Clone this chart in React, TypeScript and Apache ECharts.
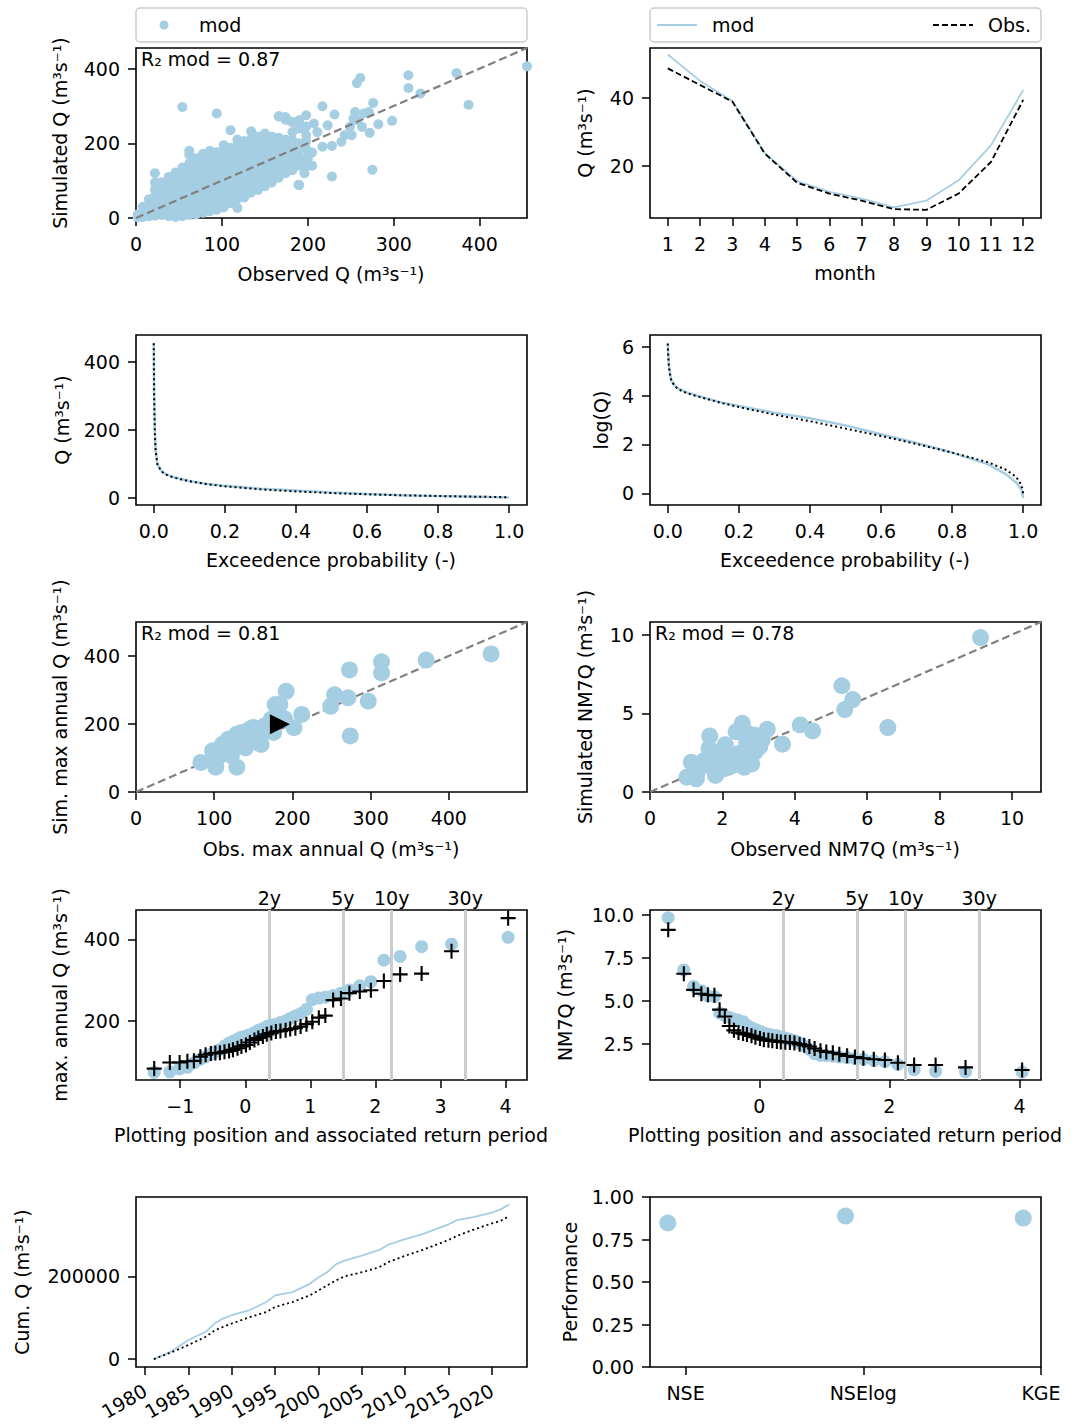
import React, { useEffect, useRef } from "react";
import * as echarts from "echarts";

const FONT = "DejaVu Sans";
const BLUE = "#a6cee3";
const DIAG_GRAY = "#808080";
const RP_GRAY = "#cccccc";

// ---------- Panel 1: daily simulated vs observed Q ----------
const P1_COLUMNS: [number, number[]][] = [
  [2, [2, 10]],
  [8, [3, 15, 30]],
  [15, [5, 20, 35, 50]],
  [22, [6, 22, 40, 58, 76, 95, 120]],
  [30, [8, 25, 42, 60, 78, 96]],
  [38, [5, 12, 30, 48, 66, 84, 100, 110]],
  [46, [3, 14, 32, 50, 68, 86, 104, 122]],
  [54, [5, 16, 35, 54, 72, 90, 108, 125, 135, 297]],
  [62, [8, 20, 38, 56, 74, 92, 110, 128, 146, 170, 180]],
  [70, [10, 22, 40, 58, 76, 94, 112, 130, 148, 160]],
  [78, [14, 25, 44, 62, 80, 98, 116, 134, 152, 165, 172]],
  [86, [18, 28, 46, 64, 82, 100, 118, 136, 154, 172, 180]],
  [94, [22, 32, 50, 68, 86, 104, 122, 140, 158, 176, 280]],
  [102, [28, 36, 54, 72, 90, 108, 126, 144, 162, 180, 195]],
  [110, [40, 45, 62, 80, 98, 116, 134, 152, 170, 188, 235]],
  [118, [27, 52, 70, 88, 106, 124, 142, 160, 178, 196, 210]],
  [126, [55, 62, 80, 98, 116, 134, 152, 170, 188, 206]],
  [134, [68, 86, 104, 122, 140, 158, 176, 194, 212, 232]],
  [142, [75, 92, 110, 128, 146, 164, 182, 200, 218]],
  [150, [85, 102, 120, 138, 156, 174, 192, 210, 226]],
  [158, [95, 112, 130, 148, 166, 184, 202, 218]],
  [166, [108, 125, 143, 161, 179, 197, 215, 272]],
  [174, [120, 138, 156, 174, 192, 210, 263, 270]],
  [182, [128, 148, 168, 188, 208, 230, 257]],
  [190, [88, 140, 160, 180, 200, 240, 262]],
  [198, [138, 160, 185, 205, 222, 245, 275]],
];
const P1_OUTLIERS: [number, number][] = [
  [189, 89], [205, 140], [205, 175], [207, 253], [217, 299], [217, 191], [223, 248], [228, 193],
  [228, 111], [231, 277], [239, 204], [243, 222], [251, 222], [249, 244], [255, 284], [257, 361],
  [261, 375], [263, 244], [271, 284], [272, 228], [275, 129], [276, 308], [282, 251], [298, 260],
  [317, 382], [317, 348], [331, 333], [373, 388], [387, 303], [455, 406], [167, 272], [176, 263],
  [182, 257], [190, 240], [257, 262], [265, 280], [253, 266], [211, 230], [200, 160], [196, 120],
];
const P1_LIMIT = 455;

// ---------- Panel 2: monthly regime ----------
const MONTHS = [1, 2, 3, 4, 5, 6, 7, 8, 9, 10, 11, 12];
const MONTHLY_MOD = [52.9, 45.1, 39.2, 23.9, 15.6, 12.4, 10.4, 7.8, 9.8, 15.8, 26.1, 42.4];
const MONTHLY_OBS = [48.8, 43.9, 39.0, 23.7, 15.1, 11.9, 9.8, 7.3, 7.1, 11.9, 21.2, 39.5];

// ---------- Panels 3 & 4: flow duration curves ----------
const EXC_PROB = [0, 0.001, 0.003, 0.005, 0.01, 0.02, 0.03, 0.05, 0.07, 0.1, 0.15, 0.2, 0.3, 0.4, 0.5, 0.6, 0.7, 0.8, 0.9, 0.95, 0.98, 0.995, 1.0];
const FDC_MOD = [455, 314, 200, 148, 101, 81, 72, 63, 57, 50, 41, 35.5, 27, 21.5, 16, 11.2, 7.8, 5.3, 3.3, 2.2, 1.6, 1.2, 0.8];
const FDC_OBS = [455, 299, 190, 141, 99, 80, 70, 62, 56, 49, 40, 34, 25, 19, 14, 10.5, 7.5, 5.3, 3.6, 2.7, 2.0, 1.4, 1.0];
const LOG_FDC_MOD = [6.12, 5.75, 5.3, 5.0, 4.62, 4.4, 4.28, 4.15, 4.05, 3.92, 3.72, 3.57, 3.3, 3.07, 2.78, 2.42, 2.06, 1.67, 1.2, 0.8, 0.45, 0.15, -0.18];
const LOG_FDC_OBS = [6.12, 5.7, 5.25, 4.95, 4.6, 4.38, 4.25, 4.12, 4.02, 3.9, 3.7, 3.53, 3.22, 2.95, 2.65, 2.35, 2.02, 1.67, 1.28, 0.98, 0.68, 0.35, 0.0];

// ---------- Panel 5: annual maxima ----------
const MAXQ_OBS = [83, 98, 102, 129, 122, 111, 118, 129, 136, 145, 155, 160, 173, 176, 178, 184, 192, 202, 212, 249, 254, 271, 273, 274, 297, 314, 314, 371, 454, 108, 125, 140, 150, 165, 170, 120, 135, 160, 185, 190, 140, 104];
const MAXQ_SIM = [87, 121, 73, 73, 107, 141, 155, 170, 136, 184, 146, 175, 214, 175, 257, 257, 296, 189, 228, 252, 286, 277, 359, 165, 267, 383, 350, 388, 406, 115, 160, 150, 190, 195, 180, 120, 175, 140, 220, 215, 130, 100];
const MAXQ_MEAN: [number, number] = [184, 199];
const MAXQ_LIMIT = 500;

// ---------- Panel 6: NM7Q ----------
const NM7Q_OBS = [9.13, 5.3, 5.6, 5.38, 6.57, 4.15, 4.49, 3.66, 3.24, 3.03, 2.55, 2.38, 2.67, 1.65, 1.63, 2.08, 1.14, 1.41, 1.02, 1.28, 1.81, 2.17, 2.6, 2.81, 2.36, 1.79, 2.03, 2.89, 2.41, 2.67, 1.5, 2.2, 2.5, 1.7, 2.7, 3.1, 1.3, 2.0, 2.6, 1.9, 2.3, 2.9];
const NM7Q_SIM = [9.81, 6.75, 5.87, 5.24, 4.09, 4.26, 3.88, 3.04, 3.98, 2.87, 4.36, 3.82, 3.77, 3.56, 2.77, 3.0, 1.89, 1.78, 0.94, 0.84, 1.05, 1.57, 1.57, 1.78, 1.89, 1.99, 1.47, 2.52, 2.41, 3.14, 2.0, 2.2, 2.0, 1.6, 2.9, 3.3, 1.2, 2.5, 2.6, 1.8, 1.7, 3.6];
const NM7Q_LIMIT = 10.8;

// ---------- Panels 7 & 8: extreme value plots ----------
const PLOT_POS = [-1.40, -1.16, -1.01, -0.89, -0.79, -0.69, -0.61, -0.53, -0.46, -0.39, -0.32, -0.25, -0.19, -0.12, -0.06, 0.01, 0.07, 0.14, 0.20, 0.27, 0.33, 0.40, 0.47, 0.54, 0.62, 0.69, 0.77, 0.85, 0.94, 1.03, 1.13, 1.23, 1.35, 1.47, 1.60, 1.76, 1.93, 2.13, 2.38, 2.71, 3.17, 4.04];
const MAXQ_SORTED_SIM = [74, 75, 82, 86, 97, 106, 112, 118, 124, 130, 138, 146, 150, 155, 160, 163, 166, 171, 177, 181, 186, 190, 192, 196, 200, 206, 212, 218, 228, 252, 256, 258, 262, 268, 276, 286, 296, 349, 358, 382, 388, 405];
const MAXQ_SORTED_OBS = [83, 98, 98, 101, 102, 112, 117, 120, 121, 122, 124, 126, 129, 133, 137, 141, 147, 153, 158, 162, 167, 170, 174, 175, 177, 180, 182, 186, 192, 198, 208, 213, 251, 255, 268, 272, 275, 298, 314, 316, 371, 452];
const NM7Q_SORTED_SIM = [9.83, 6.8, 5.85, 5.6, 5.3, 5.25, 4.3, 4.15, 4.05, 3.95, 3.88, 3.8, 3.6, 3.45, 3.35, 3.25, 3.15, 3.08, 3.02, 2.98, 2.92, 2.85, 2.78, 2.7, 2.55, 2.4, 2.2, 1.95, 1.85, 1.84, 1.8, 1.76, 1.72, 1.67, 1.62, 1.55, 1.48, 1.32, 1.02, 0.92, 0.9, 0.88];
const NM7Q_SORTED_OBS = [9.13, 6.58, 5.65, 5.42, 5.36, 5.33, 4.5, 4.1, 3.55, 3.3, 3.17, 3.11, 3.06, 2.98, 2.9, 2.82, 2.76, 2.72, 2.69, 2.66, 2.63, 2.61, 2.6, 2.56, 2.5, 2.44, 2.36, 2.25, 2.12, 2.05, 2.0, 1.92, 1.82, 1.75, 1.68, 1.62, 1.58, 1.42, 1.29, 1.29, 1.15, 1.0];
const RP_POS = [0.367, 1.5, 2.25, 3.384];
const RP_LABELS = ["2y", "5y", "10y", "30y"];

// ---------- Panel 9: cumulative discharge ----------
const CUM_YEARS = [1981, 1983, 1985, 1987, 1988, 1989, 1990, 1992, 1994, 1995, 1997, 1999, 2000, 2001, 2002, 2003, 2005, 2007, 2008, 2010, 2012, 2014, 2015, 2016, 2018, 2020, 2021, 2022];
const CUM_MOD = [0, 18000, 46000, 66000, 86000, 98000, 106000, 118000, 138000, 154000, 162000, 182000, 198000, 210000, 229000, 238000, 250000, 264000, 276000, 290000, 302000, 318000, 326000, 336000, 344000, 354000, 362000, 374000];
const CUM_OBS = [0, 16000, 34000, 54000, 69000, 78000, 86000, 101000, 114000, 126000, 138000, 154000, 166000, 178000, 190000, 200000, 210000, 222000, 234000, 250000, 264000, 280000, 288000, 298000, 314000, 328000, 334000, 346000];
const YEAR_TICKS = [1980, 1985, 1990, 1995, 2000, 2005, 2010, 2015, 2020];

// ---------- Panel 10: performance ----------
const METRICS = ["NSE", "NSElog", "KGE"];
const METRIC_VALUES = [0.847, 0.888, 0.876];

const UNIT = "(m\u00b3s\u207b\u00b9)";
const CROSS = "path://M43,0H57V43H100V57H57V100H43V57H0V43H43Z";
const TRIANGLE_RIGHT = "path://M0,0L100,50L0,100Z";

const COLS = [136, 650];
const ROWS = [48, 335, 622, 910, 1197];
const PW = 391;
const PH = 170;

const minus = (v: number) => (v < 0 ? "\u2212" + Math.abs(v) : String(v));

function axis(k: number, min: number, max: number, ticks: number[], fmt?: (v: number) => string, labelExtra: any = {}) {
  return {
    type: "value",
    gridIndex: k,
    min,
    max,
    scale: true,
    axisLine: { show: false, onZero: false },
    splitLine: { show: false },
    axisTick: { show: true, length: 8, lineStyle: { color: "#000", width: 1.5 }, customValues: ticks },
    axisLabel: {
      show: true,
      margin: 16,
      fontSize: 19,
      fontFamily: FONT,
      color: "#000",
      customValues: ticks,
      formatter: fmt ?? ((v: number) => String(v)),
      ...labelExtra,
    },
  };
}

function scatter(k: number, data: number[][], size: number, color: string, extra: any = {}) {
  return {
    type: "scatter",
    xAxisIndex: k,
    yAxisIndex: k,
    data,
    symbolSize: size,
    itemStyle: { color, opacity: 1 },
    silent: true,
    z: 3,
    ...extra,
  };
}

function line(k: number, data: number[][], color: string, width: number, type: any, extra: any = {}) {
  return {
    type: "line",
    xAxisIndex: k,
    yAxisIndex: k,
    data,
    symbol: "none",
    showSymbol: false,
    lineStyle: { color, width, type },
    silent: true,
    z: 3,
    ...extra,
  };
}

function rpMarkLine() {
  return {
    silent: true,
    symbol: ["none", "none"],
    z: 1,
    lineStyle: { color: RP_GRAY, width: 3, type: "solid" },
    label: {
      show: true,
      position: "end",
      distance: 3,
      formatter: (p: any) => p.name,
      fontSize: 19,
      fontFamily: FONT,
      color: "#000",
    },
    data: RP_POS.map((x, i) => ({ xAxis: x, name: RP_LABELS[i] })),
  };
}

function text(t: string, x: number, y: number, opts: any = {}) {
  return {
    type: "text",
    x,
    y,
    rotation: opts.rotate ? Math.PI / 2 : 0,
    silent: true,
    z: 10,
    style: {
      text: t,
      fontSize: 19,
      fontFamily: FONT,
      fill: "#000",
      align: opts.align ?? "center",
      verticalAlign: "middle",
    },
  };
}

function buildOption() {
  const grids: any[] = [];
  for (let r = 0; r < 5; r++) {
    for (let c = 0; c < 2; c++) {
      grids.push({
        left: COLS[c],
        top: ROWS[r],
        width: PW,
        height: PH,
        show: true,
        borderColor: "#000",
        borderWidth: 1.6,
        backgroundColor: "rgba(0,0,0,0)",
        containLabel: false,
        outerBoundsMode: "none",
      });
    }
  }

  const fix1 = (v: number) => v.toFixed(1);
  const fix2 = (v: number) => v.toFixed(2);

  const xAxes = [
    axis(0, 0, P1_LIMIT, [0, 100, 200, 300, 400]),
    axis(1, 0.45, 12.55, MONTHS),
    axis(2, -0.05, 1.05, [0, 0.2, 0.4, 0.6, 0.8, 1.0], fix1),
    axis(3, -0.05, 1.05, [0, 0.2, 0.4, 0.6, 0.8, 1.0], fix1),
    axis(4, 0, MAXQ_LIMIT, [0, 100, 200, 300, 400]),
    axis(5, 0, NM7Q_LIMIT, [0, 2, 4, 6, 8, 10]),
    axis(6, -1.68, 4.33, [-1, 0, 1, 2, 3, 4], minus),
    axis(7, -1.68, 4.33, [0, 2, 4], minus),
    axis(8, 1978.95, 2024.05, YEAR_TICKS, (v: number) => String(v), { rotate: 30, margin: 22 }),
    axis(9, -0.1, 2.1, [0.1, 1.1, 2.1], (v: number) => METRICS[Math.round(v - 0.1)] ?? ""),
  ];
  const yAxes = [
    axis(0, 0, P1_LIMIT, [0, 200, 400]),
    axis(1, 4.7, 54.8, [20, 40]),
    axis(2, -21, 479, [0, 200, 400]),
    axis(3, -0.47, 6.47, [0, 2, 4, 6]),
    axis(4, 0, MAXQ_LIMIT, [0, 200, 400]),
    axis(5, 0, NM7Q_LIMIT, [0, 5, 10]),
    axis(6, 55, 472, [200, 400]),
    axis(7, 0.42, 10.28, [2.5, 5, 7.5, 10], fix1),
    axis(8, -19200, 392000, [0, 200000]),
    axis(9, 0, 1, [0, 0.25, 0.5, 0.75, 1], fix2),
  ];

  const p1Data: number[][] = [];
  P1_COLUMNS.forEach(([o, sims]) => sims.forEach((s) => p1Data.push([o, s])));
  P1_OUTLIERS.forEach((p) => p1Data.push(p));

  const series: any[] = [
    // Panel 1
    scatter(0, p1Data, 10, BLUE),
    line(0, [[0, 0], [P1_LIMIT, P1_LIMIT]], DIAG_GRAY, 2.2, [8, 4], { z: 4 }),
    // Panel 2
    line(1, MONTHS.map((m, i) => [m, MONTHLY_MOD[i]]), BLUE, 1.8, "solid"),
    line(1, MONTHS.map((m, i) => [m, MONTHLY_OBS[i]]), "#000", 1.8, [6, 3]),
    // Panel 3
    line(2, EXC_PROB.map((p, i) => [p, FDC_MOD[i]]), BLUE, 2.5, "solid"),
    line(2, EXC_PROB.map((p, i) => [p, FDC_OBS[i]]), "#000", 2, [2, 3]),
    // Panel 4
    line(3, EXC_PROB.map((p, i) => [p, LOG_FDC_MOD[i]]), BLUE, 2.5, "solid"),
    line(3, EXC_PROB.map((p, i) => [p, LOG_FDC_OBS[i]]), "#000", 2, [2, 3]),
    // Panel 5
    line(4, [[0, 0], [MAXQ_LIMIT, MAXQ_LIMIT]], DIAG_GRAY, 2.2, [8, 4], { z: 2 }),
    scatter(4, MAXQ_OBS.map((o, i) => [o, MAXQ_SIM[i]]), 17, BLUE),
    scatter(4, [MAXQ_MEAN], 20, "#000", { symbol: TRIANGLE_RIGHT, z: 5 }),
    // Panel 6
    line(5, [[0, 0], [NM7Q_LIMIT, NM7Q_LIMIT]], DIAG_GRAY, 2.2, [8, 4], { z: 2 }),
    scatter(5, NM7Q_OBS.map((o, i) => [o, NM7Q_SIM[i]]), 17, BLUE),
    // Panel 7
    scatter(6, PLOT_POS.map((x, i) => [x, MAXQ_SORTED_SIM[i]]), 13, BLUE, { markLine: rpMarkLine() }),
    scatter(6, PLOT_POS.map((x, i) => [x, MAXQ_SORTED_OBS[i]]), 15, "#000", { symbol: CROSS, z: 4 }),
    // Panel 8
    scatter(7, PLOT_POS.map((x, i) => [x, NM7Q_SORTED_SIM[i]]), 13, BLUE, { markLine: rpMarkLine() }),
    scatter(7, PLOT_POS.map((x, i) => [x, NM7Q_SORTED_OBS[i]]), 15, "#000", { symbol: CROSS, z: 4 }),
    // Panel 9
    line(8, CUM_YEARS.map((y, i) => [y, CUM_MOD[i]]), BLUE, 1.8, "solid"),
    line(8, CUM_YEARS.map((y, i) => [y, CUM_OBS[i]]), "#000", 1.8, [2, 3]),
    // Panel 10
    scatter(9, METRIC_VALUES.map((v, i) => [i, v]), 17, BLUE),
  ];

  const graphics: any[] = [
    // Legend panel 1
    { type: "rect", silent: true, z: 9, shape: { x: 136, y: 8, width: 391, height: 34, r: 4 }, style: { fill: "#fff", stroke: "#cccccc", lineWidth: 1.5 } },
    { type: "circle", silent: true, z: 10, shape: { cx: 164, cy: 25, r: 4.5 }, style: { fill: BLUE } },
    text("mod", 199, 25, { align: "left" }),
    // Legend panel 2
    { type: "rect", silent: true, z: 9, shape: { x: 650, y: 8, width: 391, height: 34, r: 4 }, style: { fill: "#fff", stroke: "#cccccc", lineWidth: 1.5 } },
    { type: "line", silent: true, z: 10, shape: { x1: 657, y1: 25, x2: 697, y2: 25 }, style: { stroke: BLUE, lineWidth: 1.8 } },
    text("mod", 712, 25, { align: "left" }),
    { type: "line", silent: true, z: 10, shape: { x1: 933, y1: 25, x2: 973, y2: 25 }, style: { stroke: "#000", lineWidth: 1.8, lineDash: [6, 3] } },
    text("Obs.", 988, 25, { align: "left" }),
    // R2 annotations
    text("R\u2082 mod = 0.87", 141, 59, { align: "left" }),
    text("R\u2082 mod = 0.81", 141, 633, { align: "left" }),
    text("R\u2082 mod = 0.78", 655, 633, { align: "left" }),
    // x-axis titles
    text("Observed Q " + UNIT, 331, 274),
    text("month", 845, 273),
    text("Exceedence probability (-)", 331, 560),
    text("Exceedence probability (-)", 845, 560),
    text("Obs. max annual Q " + UNIT, 331, 849),
    text("Observed NM7Q " + UNIT, 845, 849),
    text("Plotting position and associated return period", 331, 1135),
    text("Plotting position and associated return period", 845, 1135),
    // y-axis titles
    text("Simulated Q " + UNIT, 60, 133, { rotate: true }),
    text("Q " + UNIT, 585, 133, { rotate: true }),
    text("Q " + UNIT, 62, 420, { rotate: true }),
    text("log(Q)", 601, 420, { rotate: true }),
    text("Sim. max annual Q " + UNIT, 60, 707, { rotate: true }),
    text("Simulated NM7Q " + UNIT, 585, 707, { rotate: true }),
    text("max. annual Q " + UNIT, 60, 995, { rotate: true }),
    text("NM7Q " + UNIT, 565, 995, { rotate: true }),
    text("Cum. Q " + UNIT, 22, 1282, { rotate: true }),
    text("Performance", 570, 1282, { rotate: true }),
  ];

  return {
    animation: false,
    backgroundColor: "#ffffff",
    textStyle: { fontFamily: FONT },
    grid: grids,
    xAxis: xAxes,
    yAxis: yAxes,
    series,
    graphic: { elements: graphics },
  };
}

export default function App() {
  const ref = useRef<HTMLDivElement>(null);
  useEffect(() => {
    if (!ref.current) return;
    const chart = echarts.init(ref.current, null, { renderer: "svg", width: 1083, height: 1426 });
    chart.setOption(buildOption() as any);
    return () => chart.dispose();
  }, []);
  return (
    <div
      ref={ref}
      style={{ position: "absolute", left: 0, top: 0, width: 1083, height: 1426, background: "#fff" }}
    />
  );
}
